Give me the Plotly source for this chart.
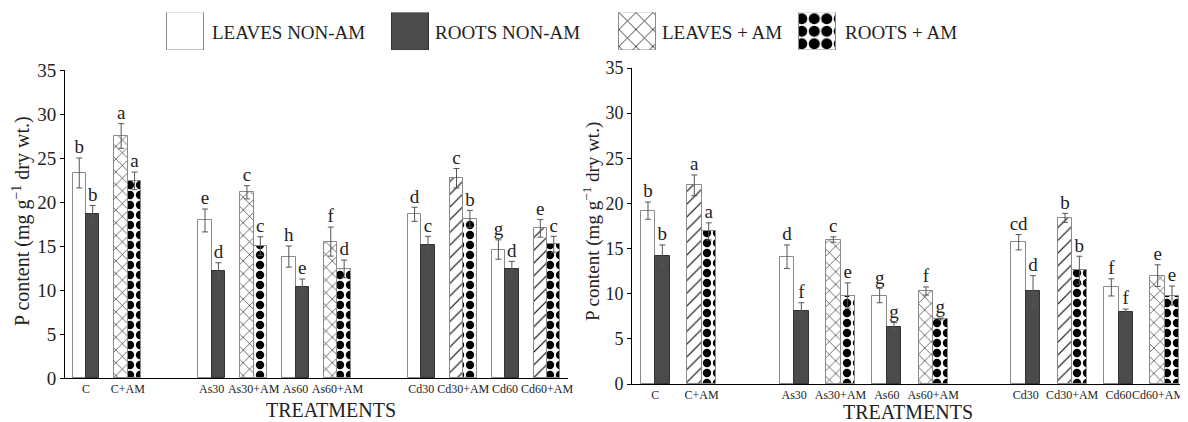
import plotly.graph_objects as go

# ---------------- data ----------------
groups = [["C", "C+AM"],
          ["As30", "As30+AM", "As60", "As60+AM"],
          ["Cd30", "Cd30+AM", "Cd60", "Cd60+AM"]]
treatments = [t for g in groups for t in g]

# left panel
leaves_L = [23.3, 27.5, 17.9, 21.1, 13.8, 15.5, 18.6, 22.7, 14.6, 17.0]
leaves_L_err = [1.7, 1.4, 1.3, 0.75, 1.2, 1.65, 0.8, 1.1, 1.1, 1.0]
roots_L = [18.6, 22.4, 12.2, 15.0, 10.3, 12.4, 15.1, 18.1, 12.35, 15.2]
roots_L_err = [1.0, 1.0, 0.9, 1.05, 0.95, 1.0, 1.0, 0.95, 0.9, 0.9]
let_leaves_L = ["b", "a", "e", "c", "h", "f", "d", "c", "g", "e"]
let_roots_L = ["b", "a", "d", "c", "e", "d", "c", "b", "d", "c"]

# right panel
leaves_R = [19.2, 22.0, 14.1, 16.0, 9.8, 10.3, 15.7, 18.4, 10.7, 12.0]
leaves_R_err = [0.95, 1.15, 1.3, 0.3, 0.8, 0.45, 0.85, 0.5, 0.95, 1.2]
roots_R = [14.2, 16.9, 8.1, 9.8, 6.35, 7.2, 10.35, 12.6, 7.95, 9.8]
roots_R_err = [1.2, 0.95, 0.9, 1.4, 0.45, 0.1, 1.65, 1.55, 0.35, 1.05]
let_leaves_R = ["b", "a", "d", "c", "g", "f", "cd", "b", "f", "e"]
let_roots_R = ["b", "a", "f", "e", "g", "g", "d", "b", "f", "e"]

y_ticks = [0, 5, 10, 15, 20, 25, 30, 35]
legend_names = ["LEAVES NON-AM", "ROOTS NON-AM", "LEAVES + AM", "ROOTS + AM"]

# ---------------- layout helpers ----------------
positions = []
p = 0
for g in groups:
    for _ in g:
        positions.append(p)
        p += 1
    p += 1  # gap slot between groups

# the page body adds an 8 px margin, so the figure is 8 px smaller and offset
OFF = 8
W, H = 1188 - OFF, 422 - OFF


def fx(px):  # page x pixel -> paper fraction
    return (px - OFF) / W


def fy(py):  # page y pixel -> paper fraction
    return (H - (py - OFF)) / H


FONT = "Liberation Serif, Times New Roman, serif"
TXT = "#222"
DARK = "#4b4b4b"
hatch_L = ["x", "x", "x", "/", "/"]
hatch_R = ["/", "x", "x", "/", "x"]

WHITE_M = dict(color="white", line=dict(color="#8a8a8a", width=1))
DARK_M = dict(color=DARK, line=dict(color="#333", width=1))


def hatch_m(shape, size=9):
    return dict(color="white", line=dict(color="#8a8a8a", width=1),
                pattern=dict(shape=shape, fgcolor="black", bgcolor="white", size=size, solidity=0.12))


def dots_m(size=10, sol=0.55):
    return dict(color="white", line=dict(color="#8a8a8a", width=1),
                pattern=dict(shape=".", fgcolor="black", bgcolor="white", size=size, solidity=sol))


fig = go.Figure()


def add_panel(idx, leaves, leaves_err, roots, roots_err, let_l, let_r, w, hatch):
    xa = "x" if idx == 1 else "x2"
    ya = "y" if idx == 1 else "y2"
    non = [i for i, t in enumerate(treatments) if "+AM" not in t]
    am = [i for i, t in enumerate(treatments) if "+AM" in t]
    xl = [positions[i] - w / 2 for i in range(len(treatments))]
    xr = [positions[i] + w / 2 for i in range(len(treatments))]
    err_style = dict(type="data", thickness=1, width=3, color="#555")

    specs = [
        (non, xl, leaves, leaves_err, WHITE_M, legend_names[0]),
        (non, xr, roots, roots_err, DARK_M, legend_names[1]),
        (am, xl, leaves, leaves_err, hatch_m(hatch), legend_names[2]),
        (am, xr, roots, roots_err, dots_m(), legend_names[3]),
    ]
    for ids, xs, vals, errs, marker, name in specs:
        fig.add_trace(go.Bar(
            x=[xs[i] for i in ids], y=[vals[i] for i in ids], width=w,
            error_y=dict(array=[errs[i] for i in ids], **err_style),
            marker=marker, name=name, showlegend=False,
            xaxis=xa, yaxis=ya, hoverinfo="y"))
    # significance letters
    for xs, vals, errs, lets in [(xl, leaves, leaves_err, let_l), (xr, roots, roots_err, let_r)]:
        fig.add_trace(go.Scatter(
            x=xs, y=[v + e for v, e in zip(vals, errs)], text=lets, mode="text",
            textposition="top center", textfont=dict(family=FONT, size=19, color=TXT),
            showlegend=False, xaxis=xa, yaxis=ya, hoverinfo="skip"))


add_panel(1, leaves_L, leaves_L_err, roots_L, roots_L_err, let_leaves_L, let_roots_L, 0.32, hatch_L)
add_panel(2, leaves_R, leaves_R_err, roots_R, roots_R_err, let_leaves_R, let_roots_R, 0.31, hatch_R)

# ---------------- custom legend (large swatches) ----------------
swatch_x = [185 - OFF, 410.5 - OFF, 637 - OFF, 817 - OFF]   # swatch centres, px
label_x = [210, 433, 660, 843]                              # label starts, page px
swatch_markers = [WHITE_M, DARK_M, hatch_m("x", 12), dots_m(12.5, 0.62)]
for sx, m, name in zip(swatch_x, swatch_markers, legend_names):
    fig.add_trace(go.Bar(x=[sx], y=[1], width=37, marker=m, name=name, showlegend=False,
                         xaxis="x3", yaxis="y3", hoverinfo="name"))

xr_common = [-0.5, 11.5]
common_x = dict(range=xr_common, tickmode="array",
                showline=True, linecolor="black", linewidth=1, ticks="", showgrid=False,
                zeroline=False, automargin=False, tickangle=0, ticklabeloverflow="allow",
                tickfont=dict(family=FONT, size=12, color=TXT))
common_y = dict(range=[0, 35], tickmode="array", tickvals=y_ticks, showline=True,
                linecolor="black", linewidth=1, ticks="outside", ticklen=4, tickcolor="black",
                showgrid=False, zeroline=False, automargin=False)


def ann(text, x, y, size, angle=0, xanchor="center"):
    return dict(text=text, x=fx(x), y=fy(y), xref="paper", yref="paper", showarrow=False,
                xanchor=xanchor, yanchor="middle", textangle=angle,
                font=dict(family=FONT, size=size, color=TXT))


ytitle = "P content (mg g<sup>\u22121</sup> dry wt.)"
annotations = [
    ann(ytitle, 21, 221, 20, -90),
    ann(ytitle, 591, 222, 19, -90),
    ann("TREATMENTS", 331, 410, 20),
    ann("TREATMENTS", 908, 412, 20),
]
for lx, name in zip(label_x, legend_names):
    annotations.append(ann(name, lx, 32, 19, 0, "left"))

# last right-panel category label sits flush against the page edge (as in the original)
annotations.append(dict(text=treatments[-1], x=xr_common[1] - 0.04, xref="x2",
                        y=fy(395), yref="paper", xanchor="right", yanchor="middle",
                        showarrow=False, font=dict(family=FONT, size=12, color=TXT)))

fig.update_layout(
    width=W, height=H, template="none",
    margin=dict(l=0, r=0, t=0, b=0),
    paper_bgcolor="white", plot_bgcolor="white",
    barmode="overlay", bargap=0, showlegend=False,
    font=dict(family=FONT, color=TXT),
    xaxis=dict(domain=[fx(65), fx(568)], anchor="y", tickvals=positions, ticktext=treatments,
               **common_x),
    yaxis=dict(domain=[fy(378), fy(70)], anchor="x",
               tickfont=dict(family=FONT, size=19, color=TXT), **common_y),
    xaxis2=dict(domain=[fx(632), 1.0], anchor="y2", tickvals=positions[:-1],
                ticktext=treatments[:-1], **common_x),
    yaxis2=dict(domain=[fy(384), fy(68)], anchor="x2",
                tickfont=dict(family=FONT, size=18, color=TXT), **common_y),
    xaxis3=dict(domain=[0, 1], range=[0, W], anchor="y3", visible=False, fixedrange=True),
    yaxis3=dict(domain=[fy(50), fy(12.5)], range=[0, 1], anchor="x3", visible=False,
                fixedrange=True),
    annotations=annotations,
)

fig.write_html("out.html")
